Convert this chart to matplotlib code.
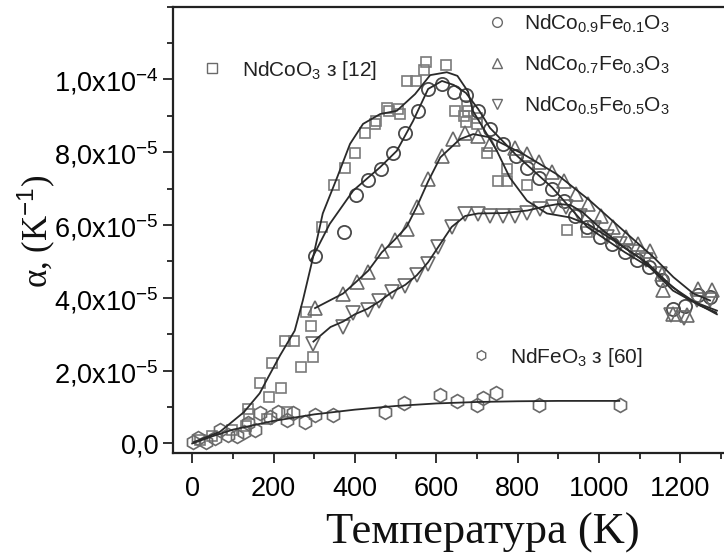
import matplotlib
matplotlib.use("Agg")
import matplotlib.pyplot as plt
from matplotlib.ticker import MultipleLocator, FixedLocator, FixedFormatter

plt.rcParams["font.family"] = ["Liberation Sans", "DejaVu Sans"]
plt.rcParams["mathtext.fontset"] = "custom"
plt.rcParams["mathtext.rm"] = "Liberation Sans"
plt.rcParams["mathtext.it"] = "Liberation Sans:italic"
plt.rcParams["mathtext.bf"] = "Liberation Sans:bold"

# ---- measured points: temperature (K), thermal expansion coefficient (1/K) ----
nco_T = [19, 48, 97, 132, 138, 140, 166, 183, 190, 196, 219, 228, 234, 251, 268,
         281, 292, 298, 318, 348, 375, 400, 425, 450, 452, 479, 484, 506, 511,
         529, 551, 571, 576, 624, 646, 669, 673, 675, 678, 701, 701, 724, 752,
         773, 773, 824, 922, 970]
nco_a = [0.10e-5, 0.20e-5, 0.37e-5, 0.49e-5, 0.94e-5, 0.82e-5, 1.65e-5, 0.68e-5,
         1.27e-5, 2.22e-5, 1.53e-5, 2.82e-5, 0.87e-5, 2.82e-5, 2.10e-5, 3.62e-5,
         3.22e-5, 2.37e-5, 5.94e-5, 7.10e-5, 7.56e-5, 7.98e-5, 8.53e-5, 8.78e-5,
         8.86e-5, 9.23e-5, 9.14e-5, 9.18e-5, 9.06e-5, 9.95e-5, 9.95e-5, 10.25e-5,
         10.49e-5, 10.39e-5, 9.14e-5, 9.01e-5, 8.82e-5, 9.27e-5, 9.14e-5, 8.95e-5,
         8.78e-5, 7.99e-5, 7.22e-5, 7.54e-5, 7.22e-5, 7.11e-5, 5.87e-5, 5.80e-5]

c91_T = [302, 373, 402, 433, 464, 493, 523, 554, 580, 614, 643, 673, 703, 732,
         763, 796, 824, 853, 885, 914, 941, 971, 1002, 1033, 1064, 1093, 1124,
         1154, 1183, 1211, 1244, 1273]
c91_a = [5.14e-5, 5.80e-5, 6.83e-5, 7.25e-5, 7.54e-5, 7.97e-5, 8.53e-5, 9.14e-5,
         9.73e-5, 9.87e-5, 9.66e-5, 9.58e-5, 9.13e-5, 8.64e-5, 8.24e-5, 7.90e-5,
         7.58e-5, 7.29e-5, 6.99e-5, 6.67e-5, 6.26e-5, 5.94e-5, 5.67e-5, 5.48e-5,
         5.25e-5, 5.03e-5, 4.84e-5, 4.48e-5, 3.70e-5, 3.79e-5, 4.07e-5, 4.02e-5]

c73_T = [302, 371, 404, 433, 466, 498, 527, 552, 580, 613, 642, 671, 703, 732,
         793, 824, 853, 884, 914, 943, 974, 1004, 1035, 1066, 1097, 1125, 1154,
         1158, 1183, 1216, 1244, 1277]
c73_a = [3.72e-5, 4.12e-5, 4.43e-5, 4.71e-5, 5.30e-5, 5.58e-5, 5.90e-5, 6.49e-5,
         7.27e-5, 7.90e-5, 8.36e-5, 8.54e-5, 8.45e-5, 8.22e-5, 8.13e-5, 7.95e-5,
         7.72e-5, 7.45e-5, 7.22e-5, 6.85e-5, 6.58e-5, 6.26e-5, 5.94e-5, 5.67e-5,
         5.47e-5, 5.30e-5, 4.66e-5, 4.21e-5, 3.57e-5, 3.52e-5, 4.25e-5, 4.21e-5]

c55_T = [298, 371, 396, 431, 460, 490, 524, 552, 580, 605, 638, 671, 703, 732,
         765, 793, 824, 855, 888, 919, 953, 988, 1020, 1052, 1084, 1116, 1150,
         1177, 1209, 1241, 1273]
c55_a = [2.72e-5, 3.20e-5, 3.58e-5, 3.67e-5, 3.91e-5, 4.15e-5, 4.34e-5, 4.62e-5,
         4.94e-5, 5.39e-5, 5.94e-5, 6.31e-5, 6.31e-5, 6.26e-5, 6.26e-5, 6.26e-5,
         6.32e-5, 6.44e-5, 6.51e-5, 6.51e-5, 6.26e-5, 5.93e-5, 5.68e-5, 5.47e-5,
         5.25e-5, 5.03e-5, 4.67e-5, 3.52e-5, 3.44e-5, 3.93e-5, 3.93e-5]

nfo_T = [2, 15, 35, 55, 68, 89, 109, 127, 138, 154, 166, 191, 211, 232, 248,
         277, 302, 347, 473, 520, 610, 652, 699, 714, 746, 853, 1052]
nfo_a = [0.05e-5, 0.14e-5, 0.05e-5, 0.15e-5, 0.37e-5, 0.23e-5, 0.21e-5, 0.32e-5,
         0.55e-5, 0.37e-5, 0.83e-5, 0.73e-5, 0.87e-5, 0.64e-5, 0.83e-5, 0.60e-5,
         0.78e-5, 0.78e-5, 0.86e-5, 1.11e-5, 1.33e-5, 1.16e-5, 1.05e-5, 1.25e-5,
         1.38e-5, 1.05e-5, 1.05e-5]

# ---- smoothed fit curves ----
nco_fit_T = [4, 68, 127, 166, 183, 216, 252, 272, 297, 321, 356, 388, 420, 462,
             503, 548, 585, 626, 652, 678, 690, 749, 781, 823, 872, 929, 978,
             1040, 1100, 1160, 1220, 1290]
nco_fit_a = [0.04e-5, 0.32e-5, 0.86e-5, 1.38e-5, 1.74e-5, 2.42e-5, 3.10e-5,
             3.93e-5, 5.11e-5, 6.32e-5, 7.30e-5, 8.23e-5, 8.78e-5, 9.05e-5,
             9.14e-5, 9.60e-5, 10.12e-5, 10.20e-5, 10.10e-5, 9.67e-5, 9.14e-5,
             8.04e-5, 7.30e-5, 6.67e-5, 6.32e-5, 6.21e-5, 5.99e-5, 5.55e-5,
             5.10e-5, 4.50e-5, 3.95e-5, 3.65e-5]

c91_fit_T = [292, 338, 396, 461, 503, 543, 580, 614, 643, 673, 703, 732, 796,
             885, 971, 1064, 1125, 1182, 1248, 1288]
c91_fit_a = [5.03e-5, 6.03e-5, 6.95e-5, 7.58e-5, 8.04e-5, 8.86e-5, 9.74e-5,
             9.96e-5, 9.85e-5, 9.63e-5, 9.19e-5, 8.67e-5, 7.93e-5, 7.03e-5,
             5.95e-5, 5.25e-5, 4.84e-5, 4.20e-5, 3.79e-5, 3.60e-5]

c73_fit_T = [302, 371, 404, 433, 466, 498, 527, 552, 580, 610, 658, 691, 732,
             814, 896, 978, 1060, 1134, 1183, 1232, 1273]
c73_fit_a = [3.72e-5, 4.12e-5, 4.45e-5, 4.75e-5, 5.25e-5, 5.60e-5, 5.95e-5,
             6.50e-5, 7.20e-5, 7.86e-5, 8.36e-5, 8.50e-5, 8.41e-5, 7.95e-5,
             7.40e-5, 6.67e-5, 5.85e-5, 5.12e-5, 4.57e-5, 4.12e-5, 3.93e-5]

c55_fit_T = [298, 340, 371, 400, 431, 460, 490, 524, 552, 580, 605, 638, 671,
             703, 765, 824, 870, 900, 930, 960, 1000, 1060, 1120, 1180, 1240, 1290]
c55_fit_a = [2.80e-5, 3.20e-5, 3.35e-5, 3.55e-5, 3.70e-5, 3.90e-5, 4.15e-5,
             4.36e-5, 4.62e-5, 4.98e-5, 5.40e-5, 5.95e-5, 6.25e-5, 6.32e-5,
             6.33e-5, 6.40e-5, 6.52e-5, 6.58e-5, 6.55e-5, 6.35e-5, 5.95e-5,
             5.40e-5, 4.95e-5, 4.30e-5, 3.85e-5, 3.55e-5]

nfo_fit_T = [0, 50, 100, 200, 300, 400, 500, 600, 700, 800, 900, 1050]
nfo_fit_a = [0.0, 0.20e-5, 0.38e-5, 0.62e-5, 0.80e-5, 0.93e-5, 1.03e-5,
             1.10e-5, 1.14e-5, 1.16e-5, 1.17e-5, 1.17e-5]

# ---- axis ticks ----
x_ticks = [0, 200, 400, 600, 800, 1000, 1200]
y_ticks = [0.0, 2e-5, 4e-5, 6e-5, 8e-5, 1e-4]
y_tick_labels = ["0,0", r"2,0x10$^{-5}$", r"4,0x10$^{-5}$", r"6,0x10$^{-5}$",
                 r"8,0x10$^{-5}$", r"1,0x10$^{-4}$"]

W, H = 724, 558
fig = plt.figure(figsize=(W / 100, H / 100), dpi=100)
ax = fig.add_axes([0.2385, 0.1876, 0.7742, 0.8004])
ax.set_xlim(-48, 1330)
ax.set_ylim(-0.27e-5, 1.2e-4)

line_kw = dict(color="#2a2a2a", lw=1.3, zorder=3)
mk_kw = dict(ls="none", mfc="none", zorder=2)

ax.plot(nco_T, nco_a, marker="s", ms=7.5, mec="#7a7a7a", mew=1.2, **mk_kw)
ax.plot(nfo_T, nfo_a, marker="h", ms=10, mec="#6a6a6a", mew=1.2, **mk_kw)
ax.plot(c91_T, c91_a, marker="o", ms=9.5, mec="#4a4a4a", mew=1.3, **mk_kw)
ax.plot(c73_T, c73_a, marker="^", ms=10, mec="#6a6a6a", mew=1.2, **mk_kw)
ax.plot(c55_T, c55_a, marker="v", ms=10, mec="#6a6a6a", mew=1.2, **mk_kw)

ax.plot(nco_fit_T, nco_fit_a, **line_kw)
ax.plot(c91_fit_T, c91_fit_a, **line_kw)
ax.plot(c73_fit_T, c73_fit_a, **line_kw)
ax.plot(c55_fit_T, c55_fit_a, **line_kw)
ax.plot(nfo_fit_T, nfo_fit_a, **line_kw)

ax.xaxis.set_major_locator(FixedLocator(x_ticks))
ax.xaxis.set_minor_locator(MultipleLocator(100))
ax.yaxis.set_major_locator(FixedLocator(y_ticks))
ax.yaxis.set_major_formatter(FixedFormatter(y_tick_labels))
ax.yaxis.set_minor_locator(MultipleLocator(1e-5))
ax.tick_params(which="both", direction="out", width=1.3, color="#222222",
               top=False, right=False)
ax.tick_params(which="major", length=7)
ax.tick_params(which="minor", length=4)
ax.tick_params(axis="x", which="major", labelsize=19.5, pad=9)
ax.tick_params(axis="y", which="major", labelsize=19.5, pad=3)
for s in ax.spines.values():
    s.set_linewidth(1.6)
    s.set_color("#222222")


def fx(px):
    return px / W


def fy(py):
    return 1 - py / H


fig.text(fx(483), fy(533), "Температура (K)", family="Liberation Serif",
         fontsize=32, ha="center", va="center", color="#111111")
fig.text(fx(36), fy(231), r"α, (K$^{-1}$)", family="Liberation Serif",
         fontsize=25, ha="center", va="center", rotation=90, color="#111111")

legend_rows = [
    ("o", 497, 22, 524, 30, r"NdCo$_{0.9}$Fe$_{0.1}$O$_3$"),
    ("^", 497, 63, 524, 71, r"NdCo$_{0.7}$Fe$_{0.3}$O$_3$"),
    ("v", 497, 104, 524, 112, r"NdCo$_{0.5}$Fe$_{0.5}$O$_3$"),
    ("s", 212, 68, 242, 76, r"NdCoO$_3$ з [12]"),
    ("h", 481, 355, 510, 363, r"NdFeO$_3$ з [60]"),
]
for mk, mx, my, tx, ty, label in legend_rows:
    fig.lines.append(plt.Line2D([fx(mx)], [fy(my)], marker=mk, ms=7, mfc="none",
                                mec="#6a6a6a", mew=1.0, ls="none",
                                transform=fig.transFigure))
    fig.text(fx(tx), fy(ty), label, fontsize=15, color="#222222", va="baseline",
             ha="left")

fig.savefig("out.png", dpi=100)
